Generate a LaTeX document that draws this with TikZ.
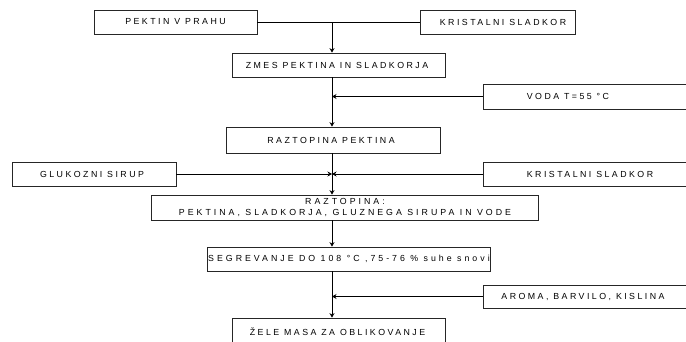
\documentclass[tikz,border=0pt]{standalone}
\usepackage{fontspec}
\setmainfont{Liberation Sans}
\newfontfamily\labfont[LetterSpace=28]{Liberation Sans}
\newfontfamily\labfontw[LetterSpace=34]{Liberation Sans}
\usetikzlibrary{arrows.meta}
\tikzset{
  box/.style={draw=black!85, line width=0.8pt, rectangle, inner sep=0pt},
  lab/.style={font=\labfont\fontsize{8.8}{10}\selectfont, text=black, inner sep=0pt, align=center},
  conn/.style={draw=black, line width=0.8pt},
  arr/.style={conn, -{Stealth[length=4.5pt,width=5pt]}}
}
\newcommand{\boxat}[5]{\node[box, minimum width=#4-#2, minimum height=#5-#3] (#1) at ({(#2+#4)/2},{(#3+#5)/2}) {};}
\begin{document}
\begin{tikzpicture}[x=1pt,y=-1pt]
\useasboundingbox (0,0) rectangle (686,341);
\clip (0,0) rectangle (686,341);
% boxes
\boxat{pektin}{94}{10}{257}{34}
\boxat{krisA}{420}{10}{575}{34}
\boxat{zmes}{232}{53}{445}{77}
\boxat{voda}{483}{84}{695}{109}
\boxat{rpek}{226}{127}{440}{153}
\boxat{gluk}{12}{162}{176}{186}
\boxat{krisB}{483}{162}{695}{186}
\boxat{rall}{151}{195}{538}{220}
\boxat{segr}{207}{247}{490}{271}
\boxat{aroma}{483}{285}{695}{308}
\boxat{zele}{232}{318}{445}{350}
% labels
\node[lab] (tpektin) at (175.5,22) {PEKTIN V PRAHU};
\node[lab] (tkrisA) at (503,22) {KRISTALNI SLADKOR};
\node[lab] (tzmes) at (337,65) {ZMES PEKTINA IN SLADKORJA};
\node[lab] (tvoda) at (568,96.5) {VODA T=55 °C};
\node[lab] (trpek) at (331,140) {RAZTOPINA PEKTINA};
\node[lab] (tgluk) at (92,174) {GLUKOZNI SIRUP};
\node[lab] (tkrisB) at (590,174) {KRISTALNI SLADKOR};
\node[lab, font=\labfontw\fontsize{8.8}{10.5}\selectfont] (trall) at (345,207.5) {RAZTOPINA:\\PEKTINA, SLADKORJA, GLUZNEGA SIRUPA IN VODE};
\node[lab, font=\labfontw\fontsize{8.8}{10}\selectfont, anchor=west] (tsegr) at (208,259) {SEGREVANJE DO 108 °C ,75-76 \% suhe snovi};
\node[lab] (taroma) at (583,296.5) {AROMA, BARVILO, KISLINA};
\node[lab] (tzele) at (337.5,332) {ŽELE MASA ZA OBLIKOVANJE};
% junction coordinates on the main line
\coordinate (j1) at (332,22);
\coordinate (j2) at (332,96.5);
\coordinate (j3) at (332,174);
\coordinate (j4) at (332,296.5);
% connectors
\draw[conn] (pektin.east) -- (krisA.west);
\draw[arr] (j1) -- (j1 |- zmes.north);
\draw[arr] (j1 |- zmes.south) -- (j1 |- rpek.north);
\draw[arr] (voda.west) -- (j2);
\draw[arr] (j1 |- rpek.south) -- (j1 |- rall.north);
\draw[arr] (gluk.east) -- (j3);
\draw[arr] (krisB.west) -- (j3);
\draw[arr] (j1 |- rall.south) -- (j1 |- segr.north);
\draw[arr] (j1 |- segr.south) -- (j1 |- zele.north);
\draw[arr] (aroma.west) -- (j4);
\end{tikzpicture}
\end{document}
